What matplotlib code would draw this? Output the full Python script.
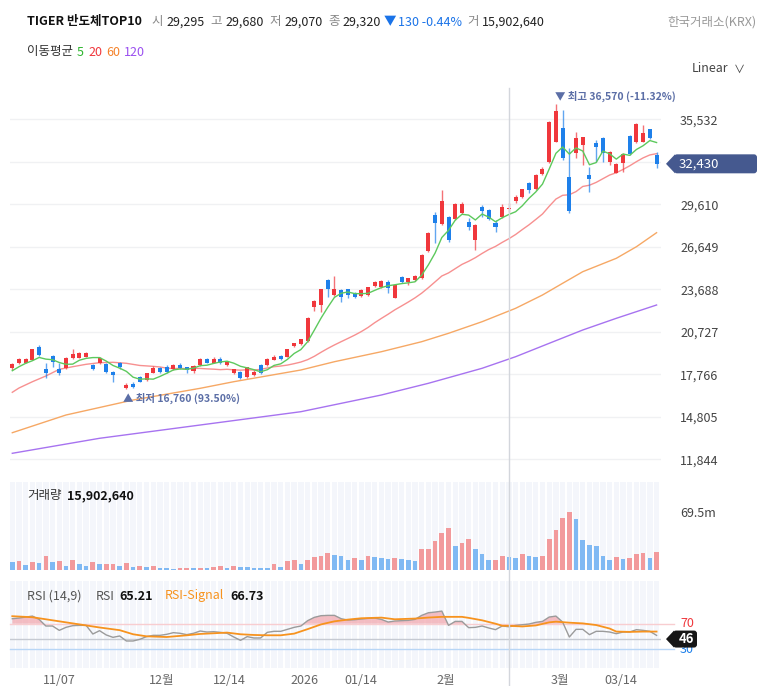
import matplotlib
matplotlib.use("Agg")
import matplotlib.pyplot as plt
from matplotlib.patches import FancyBboxPatch, Polygon
from matplotlib.lines import Line2D
from matplotlib.transforms import IdentityTransform
import numpy as np
import pandas as pd

plt.rcParams['font.family'] = ['Noto Sans CJK KR', 'DejaVu Sans']

W, H = 762, 686

# ---- data ----
name = "TIGER 반도체TOP10"
exchange = "한국거래소(KRX)"

opens = [18185, 18530, 18580, 18760, 19690, 18140, 19040, 18120, 18230, 18880,
         18930, 19000, 18420, 18530, 18460, 17950, 18530, 16790, 17080, 17600,
         17370, 17880, 18230, 18300, 18170, 18390, 18260, 18020, 18390, 18810,
         18580, 18850, 18390, 17880, 17950, 17560, 17740, 18390, 18390, 18760,
         19040, 19000, 19740, 19880, 20110, 22430, 22590, 24340, 23270, 23640,
         23690, 23410, 23220, 23290, 23920, 23850, 24220, 23100, 24570, 24220,
         24340, 24460, 26380, 28870, 28240, 28710, 28570, 28980, 28400, 27120,
         29440, 29210, 28330, 28750, 29295, 29870, 30100, 31070, 30660, 31720,
         32580, 33970, 34910, 31490, 33160, 33740, 31650, 33860, 34210, 32580,
         31810, 32470, 34370, 33970, 33970, 34840, 33050]
highs = [18554, 18900, 18870, 19560, 19810, 18580, 19110, 18530, 18940, 19510,
         19290, 19290, 18480, 18940, 18520, 18000, 18590, 17140, 17250, 17680,
         17890, 18350, 18310, 18380, 18480, 18530, 18310, 18420, 18870, 18870,
         18940, 18950, 18690, 18170, 18000, 18310, 18070, 18450, 18900, 19110,
         19080, 19560, 19980, 20260, 21760, 22910, 23740, 24410, 24620, 23710,
         23740, 23470, 23710, 23880, 24290, 24340, 24340, 24060, 24650, 24510,
         24690, 26150, 27680, 29050, 30610, 28800, 29700, 29790, 28640, 28240,
         29560, 29280, 28520, 29630, 29680, 30260, 30710, 31190, 31720, 32190,
         35410, 36570, 36180, 33510, 34670, 34320, 32230, 34090, 34300, 33320,
         32490, 33190, 34440, 35250, 35140, 34890, 33280]
lows = [18066, 18480, 18520, 18730, 19040, 17490, 18260, 17720, 18170, 18810,
        18870, 18940, 18070, 18480, 17890, 17250, 18140, 16760, 16780, 17200,
        17330, 17860, 17890, 17890, 18100, 18120, 17840, 17880, 18350, 18520,
        18520, 18480, 18350, 17820, 17440, 17490, 17680, 17820, 18350, 18730,
        18760, 18940, 19670, 19810, 20050, 22200, 22130, 23170, 23220, 22830,
        23060, 23080, 23150, 23220, 23850, 23780, 23410, 23060, 24160, 23990,
        24270, 24410, 26290, 26890, 28170, 27010, 28520, 28940, 27820, 26430,
        28750, 28520, 27700, 28690, 29070, 29680, 30050, 30380, 30610, 31650,
        32490, 33920, 32700, 29030, 32820, 32350, 30490, 32580, 32580, 32350,
        31760, 31880, 33050, 33860, 33920, 34160, 32120]
closes = [18463, 18810, 18810, 19510, 19110, 17880, 18600, 17840, 18880, 19180,
          19240, 19240, 18120, 18880, 17950, 17720, 18300, 17000, 16860, 17250,
          17840, 18190, 17950, 17950, 18420, 18190, 18070, 18350, 18810, 18580,
          18810, 18580, 18620, 18120, 17490, 18260, 17950, 17880, 18850, 18990,
          18810, 19510, 19930, 20210, 21710, 22850, 23690, 23690, 23690, 23150,
          23290, 23130, 23640, 23830, 24180, 24270, 23760, 23990, 24220, 24460,
          24620, 26080, 27590, 28330, 29860, 27120, 29630, 29630, 28050, 28170,
          29170, 28570, 28010, 29450, 29320, 30120, 30660, 30610, 31650, 32050,
          35370, 36130, 32820, 29170, 34210, 34280, 31350, 33580, 33160, 33280,
          32420, 33120, 33120, 35210, 34600, 34210, 32430]

# volume in millions of shares
volumes = [10.0, 11.2, 6.0, 10.0, 8.4, 16.5, 10.0, 11.2, 4.5, 12.4,
           7.2, 4.5, 10.0, 6.9, 7.2, 7.5, 4.5, 8.4, 3.3, 4.5,
           3.6, 4.5, 2.8, 2.6, 1.6, 2.8, 2.9, 2.0, 2.8, 2.0,
           3.3, 4.5, 2.0, 4.5, 3.3, 3.2, 2.8, 2.4, 2.0, 7.2,
           3.3, 10.5, 12.1, 7.2, 12.4, 15.3, 17.3, 20.2, 18.5, 17.3,
           12.4, 14.1, 12.4, 16.9, 15.7, 14.5, 13.6, 14.8, 13.6, 12.4,
           10.9, 25.7, 25.9, 34.6, 45.0, 50.7, 29.3, 32.2, 37.4, 25.7,
           18.9, 12.4, 12.6, 16.5, 15.90264, 14.8, 18.9, 17.3, 16.1, 17.3,
           37.4, 48.3, 62.8, 69.5, 61.2, 36.2, 30.5, 29.3, 17.3, 12.4,
           16.1, 13.6, 14.8, 18.9, 20.2, 14.8, 21.4]

rsi = [77.8, 78.8, 80.4, 81.9, 76.7, 66.4, 66.4, 59.6, 64.3, 66.9,
       67.4, 67.4, 53.9, 59.1, 52.4, 48.7, 50.8, 43.0, 43.0, 45.6,
       49.8, 51.8, 51.8, 53.4, 56.0, 55.0, 52.9, 55.0, 58.6, 57.0,
       57.5, 56.5, 55.0, 49.2, 44.0, 49.8, 47.7, 47.7, 56.5, 58.1,
       58.1, 61.2, 64.3, 66.4, 74.7, 79.9, 82.5, 83.0, 83.0, 77.8,
       75.7, 76.2, 77.3, 78.3, 78.8, 76.7, 72.6, 74.2, 74.7, 75.2,
       76.7, 83.0, 87.1, 88.2, 89.7, 67.4, 73.6, 73.6, 63.8, 64.3,
       66.4, 63.3, 60.7, 66.4, 65.21, 67.4, 68.4, 69.5, 72.1, 73.6,
       80.4, 81.9, 72.6, 49.2, 61.2, 61.2, 52.9, 58.1, 58.1, 57.0,
       54.4, 57.0, 57.0, 60.7, 59.6, 58.1, 51.8]
sig_idx = [0, 3, 7, 11, 13, 16, 18, 20, 23, 26, 28, 32, 34, 36, 38, 40, 42, 44, 46, 48,
           50, 52, 55, 57, 60, 62, 64, 67, 68, 70, 72, 73, 74, 76, 78, 80, 81, 83, 85, 87,
           89, 90, 92, 94, 96]
sig_val = [81.7, 80.1, 73.7, 67.3, 64.1, 59.9, 53.5, 50.3, 49.2, 51.9, 54.0, 56.1, 53.5, 52.4,
           51.9, 51.9, 54.5, 61.5, 68.9, 73.7, 76.4, 78.5, 79.5, 76.9, 78.0, 79.6, 80.7, 80.7,
           79.1, 75.3, 70.0, 66.8, 66.73, 65.7, 67.3, 72.1, 73.2, 71.6, 70.5, 67.9, 62.5, 57.7,
           57.2, 57.7, 57.7]
rsi_now = 46

# moving-average history the window can't compute
ma5_head = [18017, 18296, 18533, 18714]
ma20_head_idx = [0, 1, 3, 5, 7, 9, 11, 13, 15, 17]
ma20_head = [16513, 16812, 17251, 17648, 18115, 18296, 18463, 18575, 18603, 18533]
ma60_idx = [0, 8, 18, 28, 33, 43, 48, 55, 61, 65, 70, 75, 79, 82, 85, 90, 93, 96]
ma60_val = [13698, 14931, 15976, 16791, 17251, 18066, 18644, 19341, 20038, 20623,
            21431, 22365, 23291, 24106, 24915, 25848, 26656, 27632]
ma120_idx = [0, 13, 28, 43, 55, 62, 70, 75, 80, 85, 90, 96]
ma120_val = [12263, 13308, 14234, 15161, 16325, 17140, 18185, 18993, 19926, 20853, 21668, 22595]

grid_vals = [11844, 14805, 17766, 20727, 23688, 26649, 29610, 32571, 35532]
xtick_pos = [7, 22.2, 32.4, 43.5, 51.9, 64.6, 81.6, 90.7]
xtick_lab = ['11/07', '12월', '12/14', '2026', '01/14', '2월', '3월', '03/14']
cross_idx = 74

UP, DOWN = '#f0373c', '#1e80ea'
VUP, VDOWN = '#f29a9c', '#80b9f3'
C5, C20, C60, C120 = '#5dc95d', '#f79090', '#f6a865', '#a773f0'


def box(x0, y0, x1, y1):
    return [x0 / W, 1 - y1 / H, (x1 - x0) / W, (y1 - y0) / H]


fig = plt.figure(figsize=(W / 100, H / 100), dpi=100)
fig.patch.set_facecolor('white')
ax = fig.add_axes(box(10, 88, 661, 472))
axv = fig.add_axes(box(10, 482, 661, 570))
axr = fig.add_axes(box(10, 581, 661, 668))

n = len(closes)
x = np.arange(n)
o, h, l, c = (np.array(a, dtype=float) for a in (opens, highs, lows, closes))
XL = (-0.343, 96.66)

for a in (ax, axv, axr):
    a.set_xlim(*XL)
    for s in a.spines.values():
        s.set_visible(False)
    a.tick_params(length=0)
    a.set_xticks([])

# ---- price panel ----
ax.set_ylim(10960, 37713)
ax.set_yticks(grid_vals)
ax.set_yticklabels([f'{v:,}' for v in grid_vals])
ax.yaxis.tick_right()
ax.tick_params(axis='y', pad=13.7, labelsize=9, labelcolor='#444')
ax.grid(axis='y', color='#f0f1f3', lw=1)
ax.set_axisbelow(True)

col = np.where(c >= o, UP, DOWN)
ax.vlines(x, l, h, colors=col, lw=1, alpha=0.7, zorder=3)
ax.bar(x, np.maximum(np.abs(c - o), 70), bottom=np.minimum(o, c), width=0.6,
       color=col, zorder=4)

cs = pd.Series(c)
ma5 = cs.rolling(5).mean().to_numpy()
ma5[:4] = ma5_head
ma20 = cs.rolling(20).mean().to_numpy()
ax.plot(ma120_idx, ma120_val, color=C120, lw=1, zorder=2)
ax.plot(ma60_idx, ma60_val, color=C60, lw=1, zorder=2)
ax.plot(ma20_head_idx + list(x[19:]), ma20_head + list(ma20[19:]), color=C20, lw=1, zorder=2)
ax.plot(x, ma5, color=C5, lw=1, zorder=5)

imax, imin = int(np.argmax(h)), int(np.argmin(l))
ax.annotate(f'▼ 최고 {int(h[imax]):,} ({(c[-1] / h[imax] - 1) * 100:.2f}%)',
            xy=(imax, h[imax]), xytext=(-1, 8), textcoords='offset pixels',
            ha='left', va='center', fontsize=7.5, fontweight='bold', color='#5b6ea6')
ax.annotate(f'▲ 최저 {int(l[imin]):,} ({(c[-1] / l[imin] - 1) * 100:.2f}%)',
            xy=(imin, l[imin]), xytext=(-3, -10), textcoords='offset pixels',
            ha='left', va='center', fontsize=7.5, fontweight='bold', color='#5b6ea6')

# ---- volume panel ----
vmax = max(volumes)
axv.set_ylim(0, vmax * 88 / 57.6)
axv.bar(x, [axv.get_ylim()[1]] * n, width=0.8, color='#f4f6fb', zorder=0)
vcol = [VDOWN] + [VUP if volumes[i] >= volumes[i - 1] else VDOWN for i in range(1, n)]
axv.bar(x, volumes, width=0.7, color=vcol, zorder=2)
axv.yaxis.tick_right()
axv.set_yticks([vmax])
axv.set_yticklabels([f'{vmax:.1f}m'])
axv.tick_params(axis='y', pad=13.7, labelsize=9, labelcolor='#444')

# ---- RSI panel ----
axr.set_ylim(0.8, 136.7)
axr.bar(x, [136.7] * n, width=0.8, color='#f4f6fb', zorder=0)
axr.axhline(70, color='#f8cdd0', lw=1, zorder=1, xmax=1.02, clip_on=False)
axr.axhline(30, color='#b8d6f6', lw=1, zorder=1, xmax=1.02, clip_on=False)
axr.axhline(rsi_now, color='#c6cad2', lw=1, zorder=1)
r = np.array(rsi)
axr.fill_between(x, r, 70, where=r > 70, interpolate=True, color='#f2a9b0', alpha=0.75, lw=0, zorder=2)
axr.plot(x, r, color='#9b9b9b', lw=1, zorder=3)
axr.plot(sig_idx, sig_val, color='#f7931e', lw=1.3, zorder=4)
axr.set_yticks([])
yt = axr.get_yaxis_transform()
axr.annotate('70', xy=(1, 70), xycoords=yt, xytext=(19, 0), textcoords='offset pixels',
             ha='left', va='center', fontsize=9, color=UP)
axr.annotate('30', xy=(1, 30), xycoords=yt, xytext=(19, 0), textcoords='offset pixels',
             ha='left', va='center', fontsize=9, color=DOWN)
axr.set_xticks(xtick_pos)
axr.set_xticklabels(xtick_lab)
axr.tick_params(axis='x', pad=4, labelsize=9, labelcolor='#666')

# ---- crosshair across all panels ----
xp = ax.transData.transform((cross_idx, 0))[0]
fig.add_artist(Line2D([xp / W, xp / W], [0, 1 - 88 / H], transform=fig.transFigure,
                      color='#d3d6dc', lw=1, zorder=0.5))


def tag(yp, label, fc, x_tip, x0, x1, hh, tx, ha, weight):
    fig.add_artist(FancyBboxPatch((x0, yp - hh), x1 - x0, 2 * hh,
                                  boxstyle='round,pad=0,rounding_size=3',
                                  transform=IdentityTransform(), fc=fc, ec='none', zorder=5))
    fig.add_artist(Polygon([(x_tip, yp), (x0 + 1, yp + hh), (x0 + 1, yp - hh)],
                           transform=IdentityTransform(), fc=fc, ec='none', zorder=5))
    fig.text(tx / W, yp / H, label, ha=ha, va='center', color='white', fontsize=9.5,
             fontweight=weight, zorder=6)


yp = ax.transData.transform((0, c[-1]))[1]
tag(yp, f'{int(c[-1]):,}', '#45598f', 666, 674, 757, 9.5, 679, 'left', 'normal')
yp = axr.transData.transform((0, rsi_now))[1]
tag(yp, f'{rsi_now}', '#161616', 666, 673, 697, 8.5, 686, 'center', 'bold')

# ---- text rows ----
rend = fig.canvas.get_renderer()


def row(x0, y, pieces, size=9):
    xx = x0
    for s, color, weight, gap in pieces:
        xx += gap
        t = fig.text(xx / W, 1 - y / H, s, ha='left', va='center', color=color,
                     fontsize=size, fontweight=weight)
        xx += t.get_window_extent(renderer=rend).width


i = cross_idx
chg = c[i] - c[i - 1]
pct = chg / c[i - 1] * 100
arrow = '▲' if chg > 0 else '▼'
ccol = UP if chg > 0 else '#1a73e8'
row(27, 22, [(name, '#111', 'bold', 0),
             ('시', '#888', 'normal', 10), (f'{int(o[i]):,}', '#222', 'normal', 3),
             ('고', '#888', 'normal', 6), (f'{int(h[i]):,}', '#222', 'normal', 3),
             ('저', '#888', 'normal', 6), (f'{int(l[i]):,}', '#222', 'normal', 3),
             ('종', '#888', 'normal', 6), (f'{int(c[i]):,}', '#222', 'normal', 3),
             (arrow, ccol, 'normal', 2), (f'{abs(int(chg))} {pct:.2f}%', ccol, 'normal', 2),
             ('거', '#888', 'normal', 6), (f'{int(round(volumes[i] * 1e6)):,}', '#222', 'normal', 3)])
fig.text(757 / W, 1 - 22 / H, exchange, ha='right', va='center', color='#999', fontsize=9)
row(27, 52, [('이동평균', '#333', 'normal', 0), ('5', '#2db52d', 'normal', 4),
             ('20', UP, 'normal', 4), ('60', '#f5822a', 'normal', 4), ('120', '#9a4ff0', 'normal', 4)])
fig.text(692 / W, 1 - 69 / H, 'Linear', ha='left', va='center', color='#444', fontsize=9)
fig.text(734 / W, 1 - 70 / H, '∨', ha='left', va='center', color='#444', fontsize=8)
row(27, 496, [('거래량', '#333', 'normal', 0),
              (f'{int(round(volumes[i] * 1e6)):,}', '#111', 'bold', 5)])
row(27, 596, [('RSI (14,9)', '#555', 'normal', 0), ('RSI', '#555', 'normal', 14),
              (f'{rsi[i]:.2f}', '#111', 'bold', 5), ('RSI-Signal', '#f7931e', 'normal', 12),
              (f'{sig_val[sig_idx.index(i)]:.2f}', '#111', 'bold', 6)])

fig.savefig('out.png', dpi=100, facecolor='white')
